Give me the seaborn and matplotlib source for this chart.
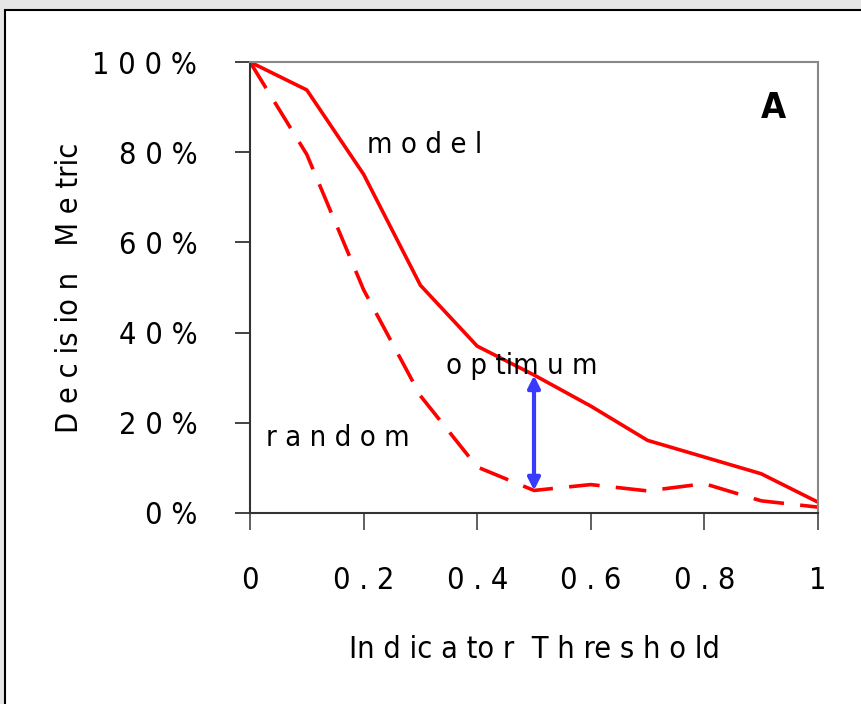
import matplotlib
matplotlib.use("Agg")
import matplotlib.pyplot as plt
import seaborn as sns
import pandas as pd
from matplotlib.patches import Rectangle

# ---- data ----
thresholds = [0.0, 0.1, 0.2, 0.3, 0.4, 0.5, 0.6, 0.7, 0.8, 0.9, 1.0]
model_vals = [100, 93.8, 75.1, 50.5, 37.0, 30.6, 23.7, 16.1, 12.4, 8.7, 2.4]
random_vals = [100, 79.5, 49.5, 26.0, 10.2, 5.0, 6.3, 4.9, 6.5, 2.7, 1.3]
y_ticks = [0, 20, 40, 60, 80, 100]
y_ticklabels = ["0 %", "2 0 %", "4 0 %", "6 0 %", "8 0 %", "1 0 0 %"]
x_ticks = [0, 0.2, 0.4, 0.6, 0.8, 1.0]
x_ticklabels = ["0", "0 . 2", "0 . 4", "0 . 6", "0 . 8", "1"]
optimum_x = 0.5
optimum_low = 5.0
optimum_high = 30.5

sns.set_theme(style="white")
plt.rcParams["font.family"] = ["DejaVu Sans"]
plt.rcParams["font.stretch"] = "condensed"
plt.rcParams["text.color"] = "black"
plt.rcParams["xtick.color"] = "black"
plt.rcParams["ytick.color"] = "black"
plt.rcParams["axes.labelcolor"] = "black"

fig = plt.figure(figsize=(8.61, 7.04), dpi=100)
fig.patch.set_facecolor("#e6e6e6")
panel = Rectangle((5 / 861, -0.05), 1.2, 1 - 10 / 704 + 0.05, transform=fig.transFigure,
                  facecolor="white", edgecolor="black", linewidth=1.5, zorder=-5)
fig.patches.append(panel)

ax = fig.add_axes([250 / 861, 1 - 513 / 704, (818 - 250) / 861, (513 - 62) / 704])
ax.set_facecolor("white")

df = pd.DataFrame({"x": thresholds, "model": model_vals, "random": random_vals})
sns.lineplot(data=df, x="x", y="model", ax=ax, color="#ff0000", linewidth=2.6)
sns.lineplot(data=df, x="x", y="random", ax=ax, color="#ff0000", linewidth=2.6)
ax.lines[1].set_linestyle((0, (8.5, 4.5)))

ax.annotate("", xy=(optimum_x, optimum_low), xytext=(optimum_x, optimum_high),
            arrowprops=dict(arrowstyle="<|-|>,head_length=0.6,head_width=0.3",
                            color="#3a3aff", lw=3, shrinkA=0, shrinkB=0))

ax.text(0.308, 81.6, "m o d e l", fontsize=21, ha="center", va="center")
ax.text(0.479, 32.6, "o p tim u m", fontsize=21, ha="center", va="center")
ax.text(0.155, 16.6, "r a n d o m", fontsize=21, ha="center", va="center")
ax.text(0.921, 89.8, "A", fontsize=26, fontweight="bold", ha="center", va="center")

ax.set_xlim(0, 1)
ax.set_ylim(0, 100)
ax.set_xticks(x_ticks)
ax.set_xticklabels(x_ticklabels, fontsize=22)
ax.set_yticks(y_ticks)
ax.set_yticklabels(y_ticklabels, fontsize=22)
ax.tick_params(axis="x", direction="out", length=12, width=1.2, color="#444444", pad=26, bottom=True)
ax.tick_params(axis="y", direction="out", length=11, width=1.2, color="#222222", pad=27, left=True)

ax.set_xlabel("In d ic a to r  T h re s h o ld", fontsize=22, labelpad=29)
ax.set_ylabel("D e c is io n   M e tric", fontsize=22, labelpad=6)

for side in ["left", "bottom"]:
    ax.spines[side].set_color("#333333")
    ax.spines[side].set_linewidth(1.5)
for side in ["top", "right"]:
    ax.spines[side].set_color("#888888")
    ax.spines[side].set_linewidth(1.5)
    ax.spines[side].set_visible(True)

fig.savefig("out.png", dpi=100, facecolor=fig.get_facecolor())
